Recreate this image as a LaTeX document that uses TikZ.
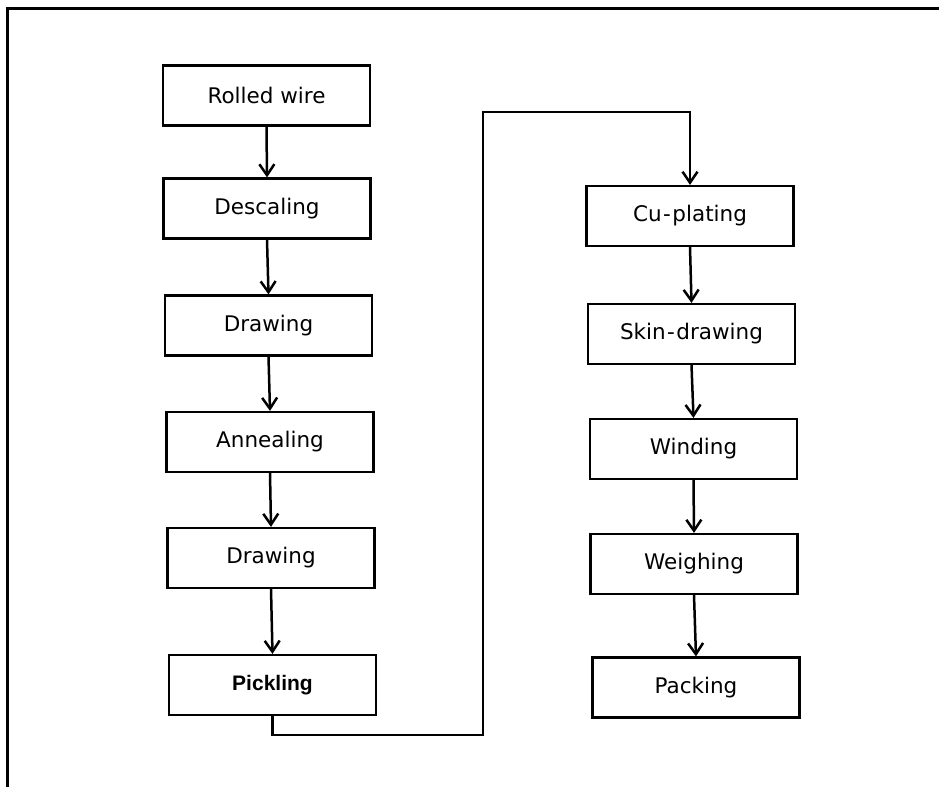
\documentclass[tikz,border=0pt]{standalone}
\usepackage{fontspec}
\setmainfont{Liberation Sans}
\newfontfamily\boxfont{DejaVu Sans}
\usetikzlibrary{arrows.meta}
\newcommand{\hy}{\kern1.5pt-\kern1.5pt}
\begin{document}
\begin{tikzpicture}[x=1pt,y=-1pt,
  box/.style={draw,line width=2.2pt,minimum width=207pt,minimum height=60pt,inner sep=0pt,font=\boxfont\fontsize{21.5}{24}\selectfont},
  flow/.style={line width=2.5pt,-{Straight Barb[length=11pt,width=15pt,line width=2.5pt]}},
  frame/.style={line width=3pt}]
\useasboundingbox (0,0) rectangle (939,787);
\coordinate (ftr) at (939,8.5);
\coordinate (ftl) at (7.5,8.5);
\coordinate (fbl) at (7.5,787);
\draw[frame] (ftr) -- (ftl) -- (fbl);
% left column
\node[box] (rw) at (266.5,95.5) {Rolled wire};
\node[box] (ds) at (267,208.5) {Descaling};
\node[box] (dr1) at (268.5,325.5) {Drawing};
\node[box] (an) at (270,442) {Annealing};
\node[box] (dr2) at (271,558) {Drawing};
\node[box,font=\rmfamily\fontsize{21}{24}\selectfont\bfseries] (pk) at (272.5,685) {Pickling};
% right column
\node[box] (cu) at (690,216) {Cu\hy plating};
\node[box] (sk) at (691.5,334) {Skin\hy drawing};
\node[box] (wi) at (693.5,449) {Winding};
\node[box] (we) at (694,564) {Weighing};
\node[box] (pa) at (696,687.5) {Packing};
\draw[flow] (rw.south) -- (ds.north);
\draw[flow] (ds.south) -- (dr1.north);
\draw[flow] (dr1.south) -- (an.north);
\draw[flow] (an.south) -- (dr2.north);
\draw[flow] (dr2.south) -- (pk.north);
\coordinate (b1) at (272.5,735);
\coordinate (b2) at (483,735);
\coordinate (b3) at (483,112);
\coordinate (b4) at (690,112);
\draw[flow] (pk.south) -- (b1) -- (b2) -- (b3) -- (b4) -- (cu.north);
\draw[flow] (cu.south) -- (sk.north);
\draw[flow] (sk.south) -- (wi.north);
\draw[flow] (wi.south) -- (we.north);
\draw[flow] (we.south) -- (pa.north);
\end{tikzpicture}
\end{document}
